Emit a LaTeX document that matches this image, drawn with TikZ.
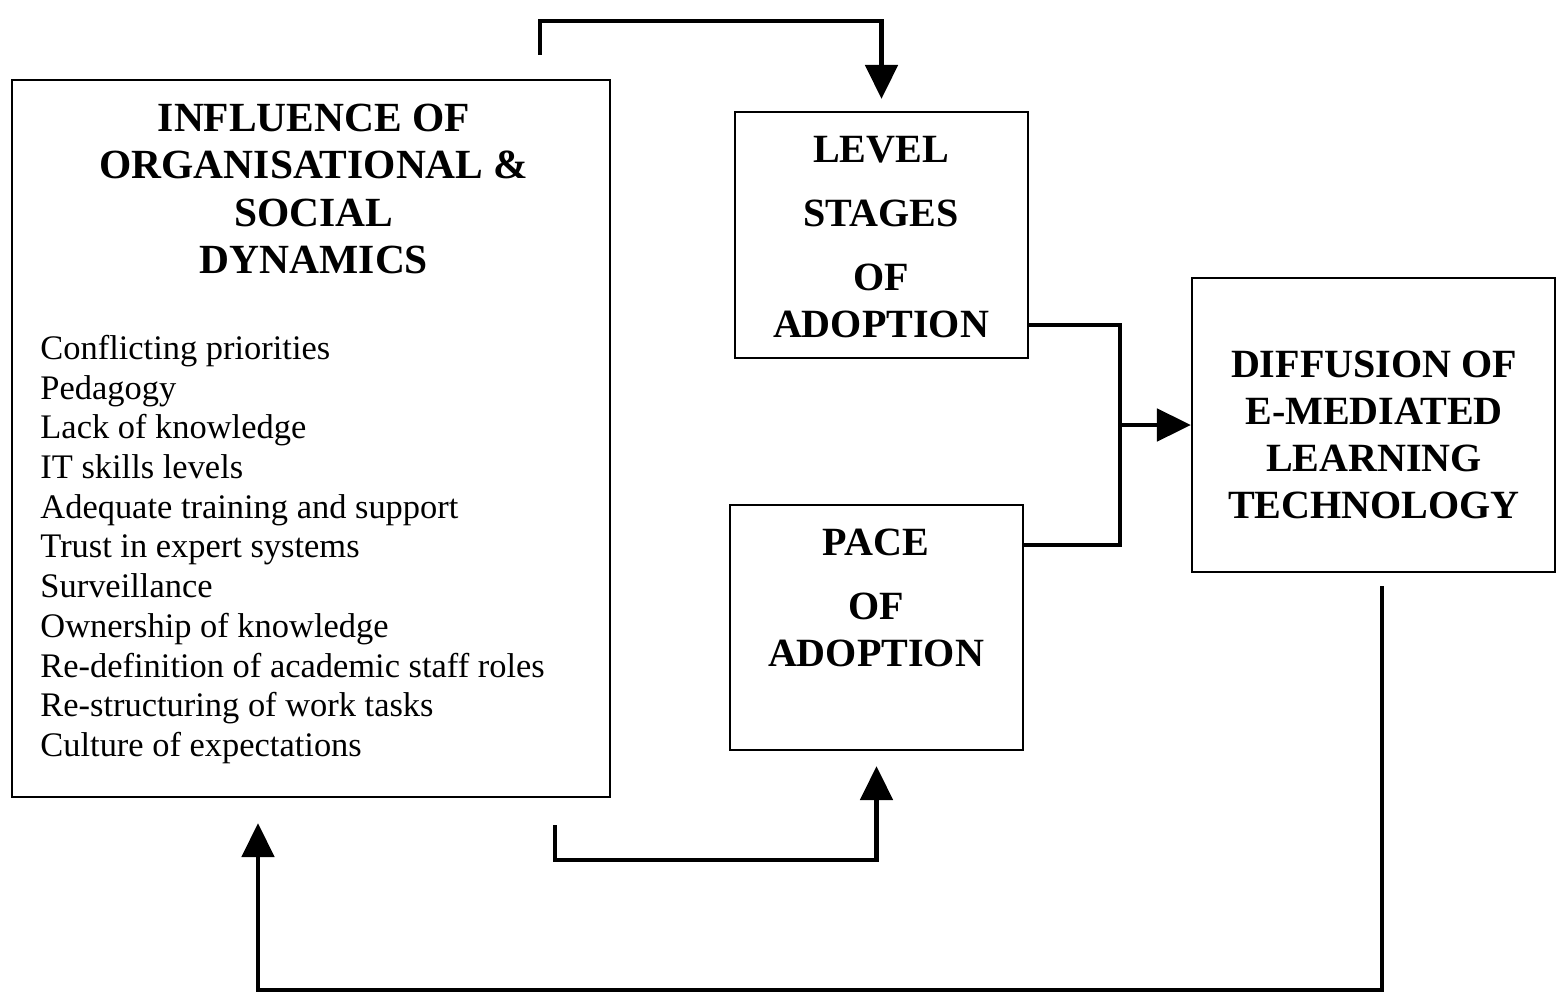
\documentclass[tikz,border=0pt]{standalone}
\usepackage{fontspec}
\setmainfont{Liberation Serif}
\usepackage{tikz}
\usetikzlibrary{arrows.meta}

\tikzset{
  box/.style={draw, line width=0.6pt, inner sep=0pt},
  head/.style={font=\fontsize{11.4}{13.4}\selectfont\bfseries, align=center},
  flow/.style={line width=1.4pt},
  tip/.style={-{Triangle[length=0.34cm,width=0.32cm]}}
}

\begin{document}
\begin{tikzpicture}
\useasboundingbox (0, 0) rectangle (15.6, 9.95);

% boxes
\node [box, minimum width=5.98cm, minimum height=7.17cm] (infl) at (3.11, 5.565) {};
\node [box, minimum width=2.93cm, minimum height=2.46cm] (level) at (8.815, 7.60) {};
\node [box, minimum width=2.93cm, minimum height=2.45cm] (pace) at (8.765, 3.675) {};
\node [box, minimum width=3.63cm, minimum height=2.94cm] (diff) at (13.735, 5.70) {};

% texts
\node [head, font=\fontsize{11.8}{13.4}\selectfont\bfseries] (infltitle) at (3.14, 8.06)
  {INFLUENCE OF\\ORGANISATIONAL \&\\SOCIAL\\DYNAMICS};
\node [anchor=west, align=left, font=\fontsize{9.8}{11.3}\selectfont] (infllist) at (0.28, 4.455)
  {Conflicting priorities\\Pedagogy\\Lack of knowledge\\IT skills levels\\
   Adequate training and support\\Trust in expert systems\\Surveillance\\
   Ownership of knowledge\\Re-definition of academic staff roles\\
   Re-structuring of work tasks\\Culture of expectations};
\node [head] (leveltext) at (8.81, 7.575) {LEVEL\\[4.8pt]STAGES\\[4.8pt]OF\\ADOPTION};
\node [head] (pacetext) at (8.76, 3.97) {PACE\\[4.8pt]OF\\ADOPTION};
\node [head] (difftext) at (13.74, 5.60) {DIFFUSION OF\\E-MEDIATED\\LEARNING\\TECHNOLOGY};

% connectors
\coordinate (toptail) at (5.40, 9.40);
\coordinate (bottail) at (5.55, 1.70);
\coordinate (join) at (11.20, 5.70);
\draw [flow, tip] (toptail) -- (5.40, 9.74) -| ([yshift=0.12cm]level.north);
\draw [flow, tip] (bottail) -- (5.55, 1.35) -| ([yshift=-0.15cm]pace.south);
\draw [flow] ([yshift=-0.90cm]level.east) -| (join) |- ([yshift=0.825cm]pace.east);
\draw [flow, tip] (join) -- (diff.west);
\draw [flow, tip] ([xshift=0.085cm, yshift=-0.13cm]diff.south) -- (13.82, 0.05)
  -| ([xshift=-0.53cm, yshift=-0.25cm]infl.south);
\end{tikzpicture}
\end{document}
